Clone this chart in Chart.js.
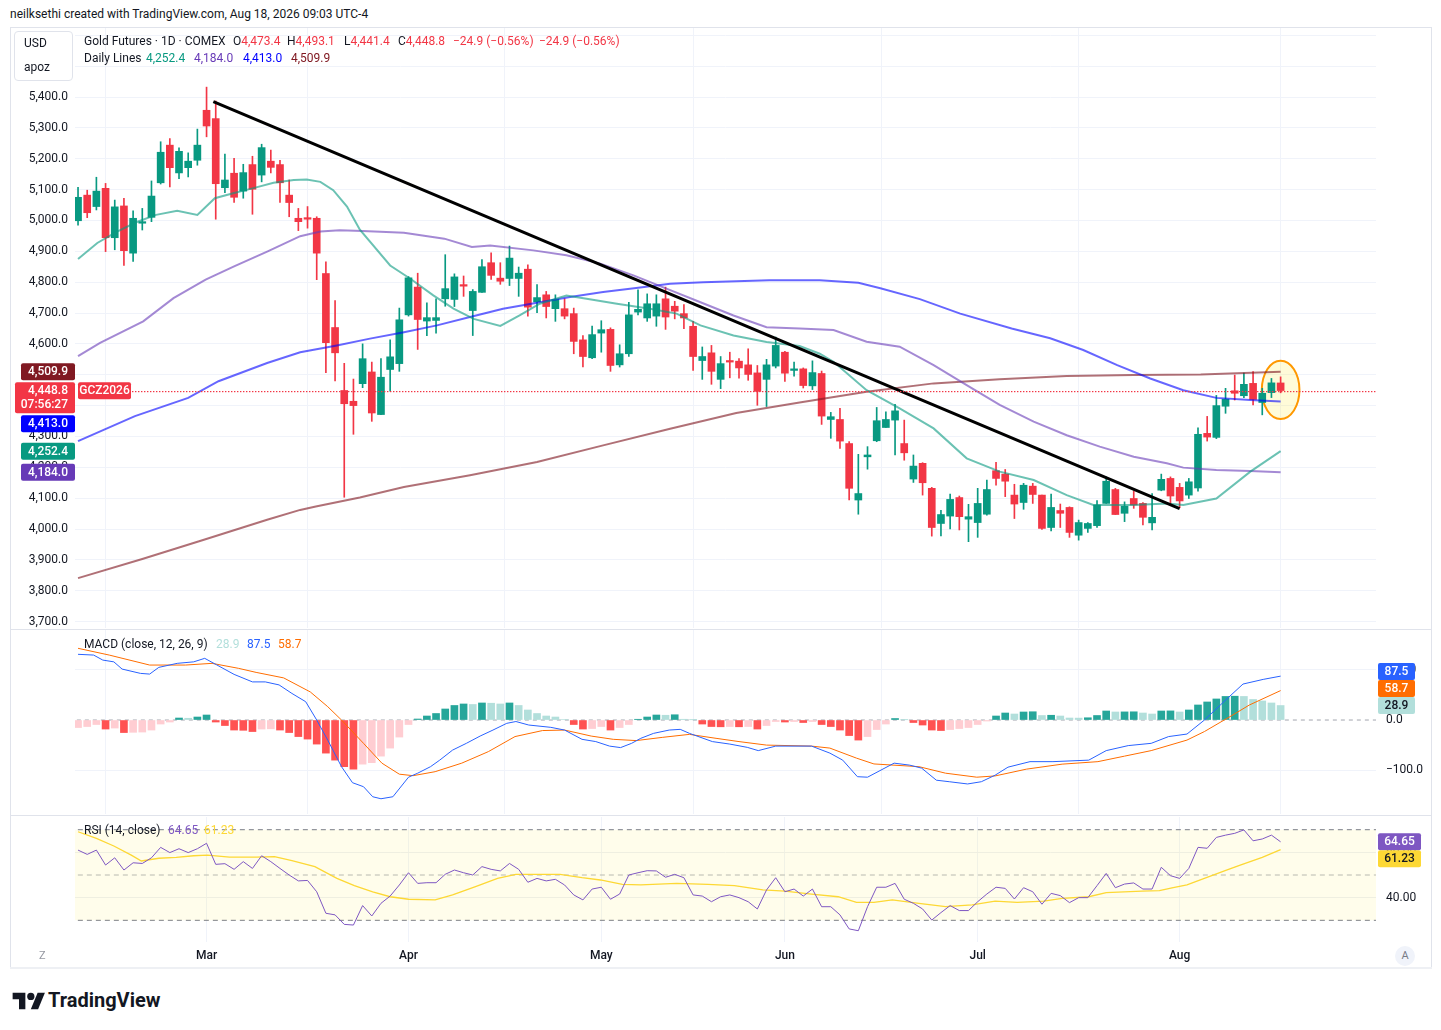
<!DOCTYPE html>
<html><head><meta charset="utf-8"><title>Gold Futures 1D</title>
<script src="https://cdn.jsdelivr.net/npm/chart.js@4.4.1/dist/chart.umd.min.js"></script>
<style>
html,body{margin:0;padding:0;background:#fff;}
body{width:1441px;height:1030px;position:relative;overflow:hidden;font-family:Roboto,"Liberation Sans",Arial,sans-serif;color:#131722;}
canvas{position:absolute;}
.t{position:absolute;font-size:12px;line-height:14px;white-space:nowrap;z-index:5;}
.r{color:#F23645}
.ov{position:absolute;z-index:6;}
</style></head><body>
<div class="t" style="left:10px;top:7px">neilksethi created with TradingView.com, Aug 18, 2026 09:03 UTC-4</div>

<canvas id="cPrice" width="1422" height="600" style="left:10px;top:28px;width:1422px;height:600px"></canvas>
<canvas id="cMacd" width="1422" height="186" style="left:10px;top:629px;width:1422px;height:186px"></canvas>
<canvas id="cRsi" width="1422" height="152" style="left:10px;top:816px;width:1422px;height:152px"></canvas>

<div class="ov" style="left:10px;top:27px;width:1420px;height:940px;border:1px solid #E0E3EB;pointer-events:none"></div>
<div class="ov" style="left:10px;top:629px;width:1422px;height:1px;background:#E0E3EB"></div>
<div class="ov" style="left:10px;top:815px;width:1422px;height:1px;background:#E0E3EB"></div>
<div class="ov" style="left:10px;top:967px;width:1422px;height:2px;background:#EEF0F4"></div>

<div class="ov" style="left:14px;top:31px;width:57px;height:48px;border:1px solid #E0E3EB;border-radius:4px;background:#fff"></div>
<div class="t" style="left:24px;top:36px;z-index:7">USD</div>
<div class="t" style="left:24px;top:60px;z-index:7">apoz</div>

<div class="t" style="left:84px;top:34px">Gold Futures · 1D · COMEX</div>
<div class="t" style="left:233px;top:34px">O<span class="r">4,473.4</span></div>
<div class="t" style="left:287px;top:34px">H<span class="r">4,493.1</span></div>
<div class="t" style="left:344px;top:34px">L<span class="r">4,441.4</span></div>
<div class="t" style="left:398px;top:34px">C<span class="r">4,448.8</span></div>
<div class="t r" style="left:453px;top:34px">−24.9 (−0.56%)</div>
<div class="t r" style="left:539px;top:34px">−24.9 (−0.56%)</div>
<div class="t" style="left:84px;top:51px">Daily Lines</div>
<div class="t" style="left:146px;top:51px;color:#089981">4,252.4</div>
<div class="t" style="left:194px;top:51px;color:#673AB7">4,184.0</div>
<div class="t" style="left:243px;top:51px;color:#0000FF">4,413.0</div>
<div class="t" style="left:291px;top:51px;color:#801922">4,509.9</div>

<div class="t" style="left:84px;top:637px">MACD (close, 12, 26, 9)</div>
<div class="t" style="left:216px;top:637px;color:#B2DFDB">28.9</div>
<div class="t" style="left:247px;top:637px;color:#2962FF">87.5</div>
<div class="t" style="left:278px;top:637px;color:#FF6D00">58.7</div>

<div class="t" style="left:84px;top:823px">RSI (14, close)</div>
<div class="t" style="left:168px;top:823px;color:#7E57C2">64.65</div>
<div class="t" style="left:204px;top:823px;color:#FDD835">61.23</div>

<div class="t" style="left:39px;top:949px;color:#9598A1;font-size:11px">Z</div>
<div class="ov" style="left:1395px;top:946px;width:20px;height:20px;border-radius:10px;background:#F0F3FA;color:#787B86;font-size:11px;line-height:20px;text-align:center">A</div>

<svg class="ov" style="left:12px;top:991px" width="34" height="20" viewBox="0 0 36 22"><path d="M14 20H7V9H0V2h14v18z" fill="#131722"/><circle cx="20" cy="6" r="4" fill="#131722"/><path d="M28 20h-8l7.5-18h8L28 20z" fill="#131722"/></svg>
<div class="ov" style="left:48px;top:988px;font-size:20px;line-height:24px;font-weight:bold;color:#131722">TradingView</div>

<script>
// ---------- categories (trading days) ----------
const febDays=[9,10,11,12,13,17,18,19,20,23,24,25,26,27];
const marDays=[2,3,4,5,6,9,10,11,12,13,16,17,18,19,20,23,24,25,26,27,30,31];
const aprDays=[1,2,6,7,8,9,10,13,14,15,16,17,20,21,22,23,24,27,28,29,30];
const mayDays=[1,4,5,6,7,8,11,12,13,14,15,18,19,20,21,22,26,27,28,29];
const junDays=[1,2,3,4,5,8,9,10,11,12,15,16,17,18,22,23,24,25,26,29,30];
const julDays=[1,2,6,7,8,9,10,13,14,15,16,17,20,21,22,23,24,27,28,29,30,31];
const augDays=[3,4,5,6,7,10,11,12,13,14,17,18];
const monthNames=['Feb','Mar','Apr','May','Jun','Jul','Aug'];

// ---------- OHLC ----------
const open=[4999,5082,5045,5104,4944,5047,4894,4991,5010,5122,
5244,5154,5171,5195,5357,5330,5106,5153,5095,5181,
5147,5192,5181,5082,5007,5009,5007,4828,4653,4449,
4414,4471,4509,4371,4517,4536,4694,4784,4674,4676,
4746,4744,4792,4708,4767,4863,4813,4812,4812,4842,
4736,4759,4714,4714,4698,4613,4555,4635,4647,4532,
4568,4703,4684,4690,4746,4722,4698,4657,4546,4571,
4485,4546,4544,4532,4506,4485,4528,4573,4514,4519,
4464,4504,4355,4355,4277,4094,4234,4286,4329,4353,
4277,4162,4213,4132,4018,4042,4102,4032,4021,4048,
4189,4178,4110,4086,4139,4110,4005,4060,4070,3980,
4002,4011,4083,4128,4051,4099,4083,4020,4126,4164,
4135,4110,4133,4310,4297,4398,4448,4432,4472,4410,
4442,4473.4];
const high=[5107,5098,5140,5120,5066,5072,5031,5039,5128,5255,
5265,5235,5219,5296,5432,5387,5215,5201,5182,5208,
5247,5228,5195,5131,5039,5045,5012,4866,4740,4537,
4486,4600,4541,4552,4613,4716,4818,4829,4733,4746,
4889,4827,4820,4776,4873,4895,4863,4917,4849,4856,
4792,4770,4759,4746,4716,4627,4658,4675,4652,4597,
4735,4775,4762,4759,4784,4738,4727,4673,4590,4595,
4559,4573,4552,4584,4530,4550,4622,4576,4541,4522,
4545,4512,4378,4391,4283,4242,4267,4394,4380,4404,
4353,4240,4215,4135,4061,4113,4107,4080,4132,4159,
4216,4193,4145,4148,4148,4110,4113,4081,4072,4029,
4021,4092,4169,4132,4088,4123,4086,4115,4178,4169,
4148,4164,4328,4365,4433,4456,4499,4505,4510,4456,
4488,4493.1];
const low=[4985,5009,5034,4899,4905,4854,4867,4969,4996,5118,
5109,5135,5141,5179,5271,5004,5090,5058,5072,5020,
5125,5154,5058,5012,4967,4975,4808,4507,4480,4103,
4307,4458,4349,4371,4447,4511,4690,4582,4627,4635,
4722,4721,4754,4627,4767,4809,4793,4789,4754,4690,
4701,4684,4673,4681,4568,4525,4552,4573,4511,4525,
4559,4694,4673,4657,4647,4681,4649,4514,4485,4469,
4455,4490,4489,4482,4401,4397,4522,4478,4495,4457,
4452,4339,4294,4261,4094,4048,4194,4283,4329,4240,
4223,4151,4110,3977,3978,4000,3997,3959,3973,4045,
4142,4105,4034,4064,4083,3999,3994,4005,3973,3964,
3989,4005,4083,4047,4024,4067,4013,3997,4124,4078,
4069,4099,4123,4285,4293,4375,4418,4426,4402,4370,
4426,4441.4];
const close=[5075,5025,5095,4944,5044,4902,5007,4996,5079,5221,
5171,5224,5192,5244,5306,5119,5131,5075,5155,5101,
5236,5172,5122,5058,4996,5004,4894,4604,4571,4406,
4400,4552,4376,4492,4558,4678,4814,4679,4685,4685,
4779,4817,4787,4770,4850,4822,4803,4878,4829,4719,
4750,4721,4744,4690,4608,4559,4630,4646,4530,4568,
4694,4712,4730,4730,4687,4706,4684,4559,4559,4511,
4536,4541,4522,4501,4446,4532,4595,4505,4519,4465,
4507,4366,4364,4285,4132,4115,4240,4351,4355,4383,
4247,4204,4150,4005,4047,4096,4040,4040,4083,4128,
4164,4155,4081,4142,4112,4002,4070,4051,3989,4021,
4018,4078,4155,4047,4074,4078,4038,4038,4161,4107,
4091,4153,4307,4298,4400,4421,4440,4469,4420,4440,
4473.7,4448.8];

// ---------- moving averages [candle index, value] ----------
const ma20=[[0,4875],[2.1,4927],[4.2,4963],[6.4,4995],[8.5,5018],[10.8,5031],[13,5018],[14.9,5072],[16.9,5088],[19,5104],[21.3,5122],[23.5,5131],[24.9,5133],[26.4,5125],[27.8,5098],[29.3,5045],[30.7,4970],[34,4854],[36.2,4811],[38.7,4757],[40.9,4714],[43.1,4681],[46,4658],[48.1,4692],[50.3,4730],[53.2,4757],[55.4,4746],[58.7,4730],[62.3,4714],[65.2,4698],[67.8,4660],[71.4,4627],[75,4606],[78.6,4593],[80.8,4568],[82.3,4542],[85.9,4450],[89.5,4391],[93.2,4326],[96.8,4229],[100.4,4186],[104.1,4159],[107.7,4110],[110.6,4078],[115,4078],[118.6,4083],[120.4,4078],[124,4099],[127.7,4186],[131,4252.4]];
const ma50=[[0,4560],[2.4,4603],[7.1,4673],[10.4,4748],[13.9,4808],[17,4851],[20.6,4899],[24.2,4949],[26.4,4964],[28.5,4968],[31,4966],[35.5,4960],[39.9,4941],[42.9,4914],[44.9,4919],[49.6,4903],[53.2,4887],[56.9,4860],[60.5,4822],[64.1,4779],[67.8,4735],[71.4,4692],[75,4654],[78.6,4650],[82.3,4645],[85.9,4607],[89.5,4591],[93.2,4531],[96.8,4466],[100.4,4402],[104.1,4348],[107.7,4304],[111.3,4267],[115,4234],[118.6,4213],[120.4,4199],[124,4191],[127.7,4188],[131,4184.0]];
const ma100=[[0,4285],[6.2,4366],[12,4425],[15.3,4479],[20.6,4538],[24.2,4573],[28.2,4595],[31.8,4617],[35.5,4638],[39.1,4660],[42.7,4687],[46.3,4714],[50,4733],[53.6,4752],[57.2,4768],[60.8,4781],[64.5,4795],[68.1,4800],[71.7,4803],[75.3,4806],[80.8,4806],[85,4798],[87.4,4780],[91.7,4745],[96.1,4698],[101.7,4650],[105.9,4618],[109.5,4580],[113.2,4531],[116.8,4488],[120.4,4450],[124,4425],[127.7,4418],[131,4413.0]];
const ma200=[[0,3841],[7,3903],[13.8,3966],[20.6,4030],[24.2,4062],[25.9,4073],[30.7,4102],[35.5,4136],[42.7,4174],[50,4217],[57.2,4271],[64.5,4325],[71.7,4376],[78.6,4410],[85.9,4445],[93.2,4472],[100.4,4485],[107.7,4496],[115,4499],[122.3,4501],[131,4509.9]];
const trendLine=[[14.74,5385],[120.0,4066]];
const highlightCenter=[131,4451];
const highlightHalf=[2.05,94.6];
const symbolName='GCZ2026';
const countdown='07:56:27';

// ---------- MACD ----------
const hist=[-15,-13,-9,-18,-16,-25,-24.5,-24,-20,-8,
-4,4,3.5,6,10,-4,-11,-20,-20.5,-23,
-18,-17.5,-20,-25,-33,-38,-48,-66,-80,-93,
-98,-88,-85,-72,-56,-34,-9,2,8,13,
22,29,32,31,34,33.5,32,34,29,20,
13,8,6,1,-9,-18,-17,-13,-20,-15,
-9,1.5,6,10,9.5,10.5,1.5,0.5,-8,-13,
-13.5,-13,-13.5,-13,-18,-11,-3,-4,-3,-5,
-3,-9,-13,-20,-31,-40,-33,-19,-8,3,
0.5,-5,-10,-20,-21,-19,-17,-15,-9,-2,
8,14,12,16,16.5,9,9.5,8,4,3.8,
4.5,9,18,16,16.2,16.4,14,12,18,18.2,
16,20,30,36,42,47,47.5,47,41,38,
34,28.9];
const macdLine=[[0,131],[1.7,129.5],[2.7,119.5],[3.9,116],[4.8,101.6],[6.8,93],[7.8,91.6],[8.8,105],[10.8,113],[12.6,116],[13.8,123],[15.1,110],[17,91],[19,76],[20.4,76],[21.9,70],[23.3,53],[24.8,36.5],[26,0],[27.2,-40],[28.7,-93],[29.9,-125],[31.1,-133],[32.1,-153],[33,-157],[34.3,-153],[36,-114],[37,-106],[38.4,-93],[39.4,-80],[40.8,-60],[42.3,-46.5],[43.8,-32],[45.2,-20],[46.7,-6.6],[47.7,-3],[49.1,-10],[51.5,-14.6],[53,-20],[54.9,-38.5],[56.4,-43],[57.9,-52],[59.1,-55],[60.3,-46.5],[61.3,-36.5],[62.7,-26.6],[64.4,-20],[65.6,-18.6],[66.6,-26.6],[69.1,-43],[71,-48],[72.9,-54.5],[74.1,-61],[76,-52],[79.9,-52],[81.9,-66],[83.3,-80],[84.9,-113],[86,-114],[88.9,-86],[90.6,-90],[91.9,-96],[93.5,-120],[94.9,-123],[96.9,-127.5],[98.4,-123],[99.9,-110],[101.3,-94],[103.7,-83],[106.2,-83],[110.1,-80],[112,-61],[114.4,-51],[116.9,-46.5],[118.8,-33],[120.8,-28],[122.7,0],[124.7,34.5],[126.9,71.7],[129.1,81],[131,87.5]];
const signalLine=[[0,143],[3.4,129.5],[7.8,109.6],[11.7,109.6],[14.6,113],[17.5,103],[19.4,95],[22.4,84],[25.3,56],[27.2,26.6],[28.7,0],[31.1,-46.5],[33.1,-86],[35,-108],[36.5,-111],[38.9,-103],[41.8,-86],[44.7,-63],[47.6,-33],[50.6,-21],[53,-20],[55.9,-32],[58.3,-38.5],[60.8,-41],[63.7,-34.5],[66.6,-28.6],[69.5,-36.5],[72,-43],[75,-50],[79.9,-52],[81.9,-56],[84.8,-76],[86.7,-87.6],[91.6,-93],[94.5,-106],[97.9,-114],[99.9,-111.5],[103.3,-98],[107.2,-88],[111.1,-83],[114,-72],[116.9,-61],[120.8,-40],[122.7,-23],[125.6,8],[127.6,30],[131,58.7]];

// ---------- RSI ----------
const rsi=[61,59.1,61,54.4,57.6,52.2,55.4,55.1,57.6,62.2,
59.9,61.6,59.9,61.6,64,54.7,55,52.5,55.9,52.9,
58.5,55.9,52.9,50,47.4,47.6,42.6,33.1,32.4,28.2,
27.9,36.5,31.9,37.5,40.7,45.6,51,46.3,46.6,46.6,
50.3,52.2,51,50,53.7,52.5,51.8,55.1,52.5,46.8,
48.5,47.4,48.1,45.6,41.2,39,43.8,44.6,39.3,41.6,
50,51,51.9,51.8,49,50.3,48.8,41.2,40.7,38.2,
40.4,41.2,40,38.2,35,43.4,48.8,42.6,43.8,40.7,
43.8,36,36,32.4,26.2,25.4,36,44.6,44.6,46.3,
39.3,37.5,35,30.1,33.4,36.5,34.3,34.3,38.2,41.6,
44.6,44.1,39.4,44.4,42.6,37.1,41.9,40.9,37.8,40,
40,45.3,50.7,44.4,46,46.5,43.8,43.8,53.4,49.7,
48.5,52.9,62.2,61.8,66.6,67.6,68.4,69.9,65.1,65.9,
67.6,64.65];
const rsiMA=[[0,69.1],[2,66.2],[3.9,62.8],[5.8,58.8],[6.9,56.2],[8.8,57.4],[10.7,57.8],[12.6,58.5],[14.1,58.8],[16.5,57.9],[19.4,57.9],[21.4,58.1],[23.3,56.3],[25.8,53.7],[28.2,48.5],[30.1,45.3],[32.1,42.6],[34,40.4],[36,39.3],[38.9,39],[40.8,41.2],[43.3,44.9],[45.7,48.5],[47.7,50.3],[49.6,50.3],[52.5,50.3],[54.9,48.8],[56.9,47.8],[59.3,45.9],[61.3,45.6],[65.2,46.3],[68.6,45.9],[71.5,45.3],[74.6,43.4],[77,42.9],[79.9,41.6],[82.8,40.4],[84.8,37.9],[86.7,37.9],[88.7,39],[91.6,37.5],[94.5,36],[97.4,36.8],[99.9,38.5],[102.3,37.9],[105.2,38.5],[107.2,39.7],[110.1,40.4],[112,42.2],[115.9,42.9],[117.8,43.1],[119.3,44.4],[120.8,45.6],[123.2,49.3],[125.1,52.2],[126.6,54.4],[129,57.8],[131,61.23]];
const rsiLevels=[70,50,30];

// ---------- tick labels ----------
const priceTicks=[3700,3800,3900,4000,4100,4200,4300,4400,4500,4600,4700,4800,4900,5000,5100,5200,5300,5400,5500,5600];
const priceLabelMax=5400;
const macdTicks=[-100,0,100];
const rsiTicks=[40,60];

// ---------- build ----------
const monthDays=[febDays,marDays,aprDays,mayDays,junDays,julDays,augDays];
const dates=[];
monthDays.forEach((days,m)=>days.forEach(d=>dates.push(monthNames[m]+' '+d)));
const monthStarts=[];
dates.forEach((d,i)=>{ if(i>0 && d.split(' ')[0]!==dates[i-1].split(' ')[0]) monthStarts.push(i); });
const idx=close.map((_,i)=>i);
const X_MIN=-0.33, X_MAX=141.39;
const GREEN='#089981', RED='#F23645';
const FONT='Roboto, "Liberation Sans", Arial, sans-serif';
Chart.defaults.font.family=FONT;
Chart.defaults.font.size=12;
Chart.defaults.color='#131722';

const pts=a=>a.map(([x,y])=>({x,y}));
const last=a=>a[a.length-1][1];
function fmt(v,d){const s=Math.abs(v).toFixed(d);const p=s.split('.');const w=p[0].replace(/\B(?=(\d{3})+(?!\d))/g,',');return (v<0?'−':'')+w+(p[1]?'.'+p[1]:'');}
function rr(ctx,x,y,w,h,r){ctx.beginPath();ctx.moveTo(x+r,y);ctx.lineTo(x+w-r,y);ctx.quadraticCurveTo(x+w,y,x+w,y+r);ctx.lineTo(x+w,y+h-r);ctx.quadraticCurveTo(x+w,y+h,x+w-r,y+h);ctx.lineTo(x+r,y+h);ctx.quadraticCurveTo(x,y+h,x,y+h-r);ctx.lineTo(x,y+r);ctx.quadraticCurveTo(x,y,x+r,y);ctx.closePath();}

function xScale(labels){
  return {type:'linear',min:X_MIN,max:X_MAX,offset:false,
    afterBuildTicks:s=>{s.ticks=monthStarts.map(v=>({value:v}));},
    ticks: labels?{display:true,autoSkip:false,maxRotation:0,padding:7,color:'#131722',font:{size:12,weight:'500'},callback:v=>dates[v].split(' ')[0]}:{display:false},
    grid:{color:'#F0F3FA',drawTicks:false},border:{display:false},
    afterFit:s=>{s.height=labels?26:0;}};
}
const base={responsive:false,animation:false,events:[],plugins:{legend:{display:false},tooltip:{enabled:false}}};

const candleColors=idx.map(i=>close[i]>=open[i]?GREEN:RED);
const lastClose=close[close.length-1];

const highlightPlugin={id:'hl',beforeDatasetsDraw(chart){
  const {ctx,scales:{x,y}}=chart;
  const cx=x.getPixelForValue(highlightCenter[0]), cy=y.getPixelForValue(highlightCenter[1]);
  const rx=Math.abs(x.getPixelForValue(highlightCenter[0]+highlightHalf[0])-cx);
  const ry=Math.abs(y.getPixelForValue(highlightCenter[1]+highlightHalf[1])-cy);
  ctx.save();ctx.beginPath();ctx.ellipse(cx,cy,rx,ry,0,0,Math.PI*2);
  ctx.fillStyle='rgba(255,235,59,0.2)';ctx.fill();
  ctx.lineWidth=2;ctx.strokeStyle='#FF9800';ctx.stroke();ctx.restore();
}};

const priceTagPlugin={id:'ptags',afterDraw(chart){
  const {ctx,scales:{y},chartArea:a}=chart;
  ctx.save();
  // dotted last-price line
  const yi=Math.round(y.getPixelForValue(lastClose));
  ctx.fillStyle=RED;
  for(let px=Math.round(a.left+57);px<a.right;px+=3){ctx.fillRect(px,yi,1.4,1.2);}
  const tags=[
    {v:last(ma200),bg:'#801922'},
    {v:lastClose,bg:RED,sub:countdown},
    {v:last(ma100),bg:'#0000FF'},
    {v:last(ma20),bg:'#089981'},
    {v:last(ma50),bg:'#673AB7'}
  ].sort((p,q)=>q.v-p.v);
  ctx.font='500 12px '+FONT;ctx.textBaseline='middle';
  let prev=-Infinity;
  for(const t of tags){
    const h=t.sub?31:17;
    let top=y.getPixelForValue(t.v)-8.5;
    if(top<prev+2) top=prev+2;
    const left=t.sub?a.left-60:a.left-54;
    ctx.fillStyle=t.bg;rr(ctx,left,top,a.left-left,h,2);ctx.fill();
    ctx.fillStyle='#fff';ctx.textAlign='right';
    ctx.fillText(fmt(t.v,1),a.left-7,top+9);
    if(t.sub){
      ctx.fillText(t.sub,a.left-7,top+23);
      ctx.fillStyle=RED;rr(ctx,a.left+3,top,53,17,2);ctx.fill();
      ctx.fillStyle='#fff';ctx.textAlign='center';ctx.fillText(symbolName,a.left+29.5,top+9);
    }
    prev=top+h;
  }
  ctx.restore();
}};

new Chart(document.getElementById('cPrice'),{
  type:'bar',
  data:{datasets:[
    {type:'line',data:pts(trendLine),borderColor:'#000',borderWidth:3,pointRadius:0,order:0},
    {type:'line',data:pts(ma20),borderColor:'rgba(8,153,129,0.6)',borderWidth:2,pointRadius:0,order:1},
    {type:'line',data:pts(ma50),borderColor:'rgba(103,58,183,0.6)',borderWidth:2,pointRadius:0,order:1},
    {type:'line',data:pts(ma100),borderColor:'rgba(0,0,255,0.6)',borderWidth:2,pointRadius:0,order:1},
    {type:'line',data:pts(ma200),borderColor:'rgba(128,25,34,0.62)',borderWidth:2,pointRadius:0,order:1},
    {type:'bar',data:idx.map(i=>({x:i,y:[open[i],close[i]]})),backgroundColor:candleColors,barThickness:7,minBarLength:1,grouped:false,order:2},
    {type:'bar',data:idx.map(i=>({x:i,y:[low[i],high[i]]})),backgroundColor:candleColors,barThickness:1,grouped:false,order:3}
  ]},
  options:Object.assign({},base,{
    layout:{autoPadding:false,padding:{left:0,right:56,top:0,bottom:0}},
    scales:{
      x:xScale(false),
      y:{position:'left',min:3679.3,max:5623.6,
        afterBuildTicks:s=>{s.ticks=priceTicks.map(v=>({value:v}));},
        ticks:{callback:v=>v>priceLabelMax?'':fmt(v,1),padding:7,color:'#131722'},
        grid:{color:'#F0F3FA',drawTicks:false},border:{display:false},
        afterFit:s=>{s.width=65;s.paddingTop=0;s.paddingBottom=0;}}
    }
  }),
  plugins:[highlightPlugin,priceTagPlugin]
});

// dir: 1 = resolve overlaps downward from the top, -1 = upward from the bottom
function rightTags(tags,w,dir){
  return {id:'rtags',afterDraw(chart){
    const {ctx,scales:{y},chartArea:a}=chart;
    ctx.save();ctx.font='500 12px '+FONT;ctx.textAlign='center';ctx.textBaseline='middle';
    const list=tags.map(t=>Object.assign({top:y.getPixelForValue(t.v)-8.5},t));
    if(dir>0){let prev=-Infinity;list.forEach(t=>{if(t.top<prev)t.top=prev;prev=t.top+17;});}
    else{let prev=Infinity;for(let k=list.length-1;k>=0;k--){const t=list[k];if(t.top+17>prev)t.top=prev-17;prev=t.top;}}
    list.forEach(t=>{
      ctx.fillStyle=t.bg;rr(ctx,a.right+2,t.top,w,17,2);ctx.fill();
      ctx.fillStyle=t.fg;ctx.fillText(t.text,a.right+2+w/2,t.top+9);
    });
    ctx.restore();
  }};
}

const histColors=hist.map((v,i)=>{const p=i>0?hist[i-1]:v; return v>=0?(v>=p?'#26A69A':'#B2DFDB'):(v<p?'#FF5252':'#FFCDD2');});
new Chart(document.getElementById('cMacd'),{
  type:'bar',
  data:{datasets:[
    {type:'line',data:pts(macdLine),borderColor:'#2962FF',borderWidth:1,pointRadius:0,order:0},
    {type:'line',data:pts(signalLine),borderColor:'#FF6D00',borderWidth:1,pointRadius:0,order:1},
    {type:'bar',data:hist.map((v,i)=>({x:i,y:v})),backgroundColor:histColors,barThickness:7,grouped:false,order:2},
    {type:'line',data:[{x:-1,y:0},{x:143,y:0}],borderColor:'#A3A6AF',borderDash:[4,4],borderWidth:1,pointRadius:0,order:3}
  ]},
  options:Object.assign({},base,{
    layout:{autoPadding:false,padding:{left:65,right:0,top:1,bottom:1}},
    scales:{
      x:xScale(false),
      y:{position:'right',min:-187.4,max:179.5,
        afterBuildTicks:s=>{s.ticks=macdTicks.map(v=>({value:v}));},
        ticks:{callback:v=>fmt(v,1),padding:10,color:'#131722'},
        grid:{color:c=>(c.tick&&c.tick.value===0)?'rgba(0,0,0,0)':'#F0F3FA',drawTicks:false},border:{display:false},
        afterFit:s=>{s.width=56;s.paddingTop=0;s.paddingBottom=0;}}
    }
  }),
  plugins:[rightTags([
    {v:last(macdLine),bg:'#2962FF',fg:'#fff',text:fmt(last(macdLine),1)},
    {v:last(signalLine),bg:'#FF6D00',fg:'#fff',text:fmt(last(signalLine),1)},
    {v:hist[hist.length-1],bg:'#B2DFDB',fg:'#131722',text:fmt(hist[hist.length-1],1)}
  ],37,-1)]
});

new Chart(document.getElementById('cRsi'),{
  type:'line',
  data:{datasets:[
    {data:pts(rsi.map((v,i)=>[i,v])),borderColor:'#7E57C2',borderWidth:1,pointRadius:0,order:0},
    {data:pts(rsiMA),borderColor:'#FDD835',borderWidth:1.3,pointRadius:0,order:1},
    {data:[{x:-1,y:rsiLevels[0]},{x:143,y:rsiLevels[0]}],borderColor:'#787B86',borderDash:[5,4],borderWidth:1,pointRadius:0,fill:{value:rsiLevels[2]},backgroundColor:'rgba(255,235,59,0.1)',order:2},
    {data:[{x:-1,y:rsiLevels[1]},{x:143,y:rsiLevels[1]}],borderColor:'#B2B5BE',borderDash:[5,4],borderWidth:1,pointRadius:0,order:2},
    {data:[{x:-1,y:rsiLevels[2]},{x:143,y:rsiLevels[2]}],borderColor:'#787B86',borderDash:[5,4],borderWidth:1,pointRadius:0,order:2}
  ]},
  options:Object.assign({},base,{
    layout:{autoPadding:false,padding:{left:65,right:0,top:1,bottom:0}},
    scales:{
      x:xScale(true),
      y:{position:'right',min:20.42,max:75.61,
        afterBuildTicks:s=>{s.ticks=rsiTicks.map(v=>({value:v}));},
        ticks:{callback:v=>fmt(v,2),padding:10,color:'#131722'},
        grid:{color:'#EEF0F4',drawTicks:false},border:{display:false},
        afterFit:s=>{s.width=56;s.paddingTop=0;s.paddingBottom=0;}}
    }
  }),
  plugins:[rightTags([
    {v:rsi[rsi.length-1],bg:'#7E57C2',fg:'#fff',text:fmt(rsi[rsi.length-1],2)},
    {v:last(rsiMA),bg:'#FDD835',fg:'#131722',text:fmt(last(rsiMA),2)}
  ],43,1)]
});
</script>
</body></html>
